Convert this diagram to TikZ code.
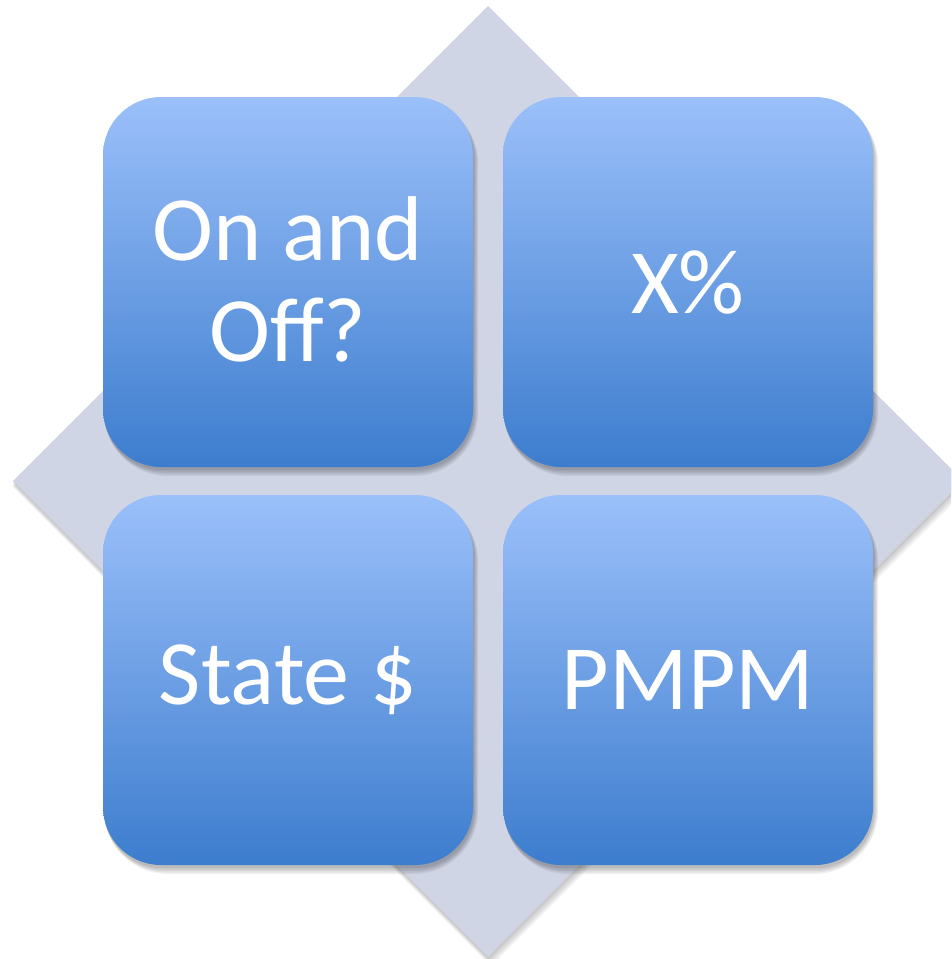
\documentclass[tikz,border=0pt]{standalone}
\usepackage{fontspec}
\setmainfont{Carlito}
\definecolor{diam}{RGB}{207,213,229}
\definecolor{boxtop}{RGB}{155,192,250}
\definecolor{boxbot}{RGB}{61,125,206}
\tikzset{
  tile/.style={rounded corners=58pt, minimum width=370pt, minimum height=370pt,
    top color=boxtop, bottom color=boxbot, draw=none,
    text=white, align=center, font=\fontsize{92}{101}\selectfont},
  softshade/.style={fill=black, fill opacity=0.06, draw=none}
}
\begin{document}
\begin{tikzpicture}[x=1pt,y=-1pt]
\useasboundingbox (0,0) rectangle (951,959);
\clip (0,0) rectangle (951,959);
% diamond shadow (offset downwards)
\foreach \e in {0,1.5,3,4.5,6} {
  \path[softshade] (488+0.5*\e,6+\e) -- (963+\e,481+\e) -- (488+0.5*\e,957+1.5*\e) -- (13,481+\e) -- cycle;
}
\path[fill=diam] (488,6) -- (963,481) -- (488,957) -- (13,481) -- cycle;
% tile shadows
\foreach \cx/\cy in {288/282,688/282,288/680,688/680} {
  \foreach \e in {0,1.5,3,4.5,6} {
    \path[softshade, rounded corners=58pt+\e]
      (\cx-185+1,\cy-185+3) rectangle (\cx+185+1+0.7*\e,\cy+185+3+\e);
  }
}
\node[tile] (tl) at (288,282) {\raisebox{6pt}{On and}\\\raisebox{6pt}{Off?}};
\node[tile] (tr) at (688,282) {X\%};
\node[tile] (bl) at (288,680) {State \$};
\node[tile] (br) at (688,680) {PMPM};
\end{tikzpicture}
\end{document}
